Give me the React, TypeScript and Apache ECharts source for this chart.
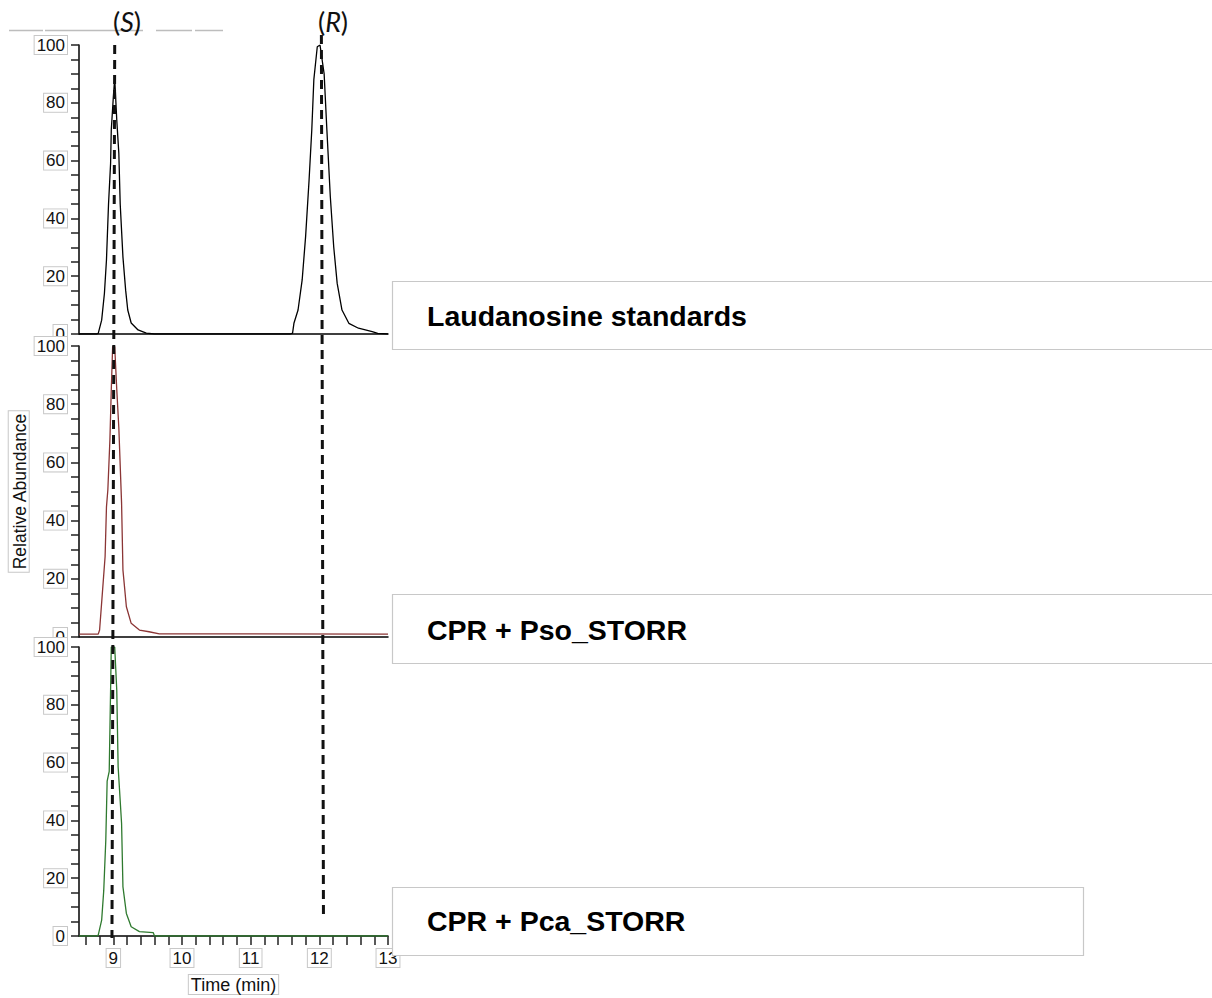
import React, { useEffect, useRef } from "react";
import * as echarts from "echarts";

// ---- Data ----
const stdTime = [8.5, 8.76, 8.78, 8.83, 8.87, 8.9, 8.93, 8.96, 8.97, 9.0, 9.02, 9.05, 9.08, 9.1, 9.14, 9.18, 9.21, 9.26, 9.36, 9.48, 9.6, 11.58, 11.61, 11.63, 11.69, 11.75, 11.8, 11.85, 11.89, 11.92, 11.97, 12.01, 12.07, 12.11, 12.16, 12.21, 12.26, 12.33, 12.43, 12.57, 12.77, 12.85, 13.0];
const stdAbundance = [0, 0, 0.2, 4.8, 14, 25.6, 45, 59, 70.6, 82, 88.6, 74, 62.6, 45, 26.6, 15, 8.3, 3.8, 1.4, 0.3, 0, 0, 0.3, 3.7, 8.3, 18.7, 33.7, 53, 70.6, 88, 99.4, 100, 90, 70.6, 47.5, 30, 17.5, 8.3, 3.7, 2, 0.8, 0.2, 0];

const psoTime = [8.5, 8.78, 8.8, 8.84, 8.88, 8.9, 8.92, 8.95, 8.97, 8.99, 9.02, 9.05, 9.08, 9.12, 9.14, 9.19, 9.26, 9.38, 9.52, 9.67, 13.0];
const psoAbundance = [1.0, 1.0, 2.4, 15, 27.6, 44.7, 50.5, 67.7, 84.9, 99.8, 99.8, 85, 72, 46, 23, 10.4, 4.7, 2.4, 1.8, 1.1, 1.0];

const pcaTime = [8.5, 8.76, 8.78, 8.83, 8.86, 8.89, 8.91, 8.94, 8.96, 8.97, 9.02, 9.05, 9.07, 9.12, 9.14, 9.19, 9.26, 9.38, 9.58, 9.6, 13.0];
const pcaAbundance = [0, 0, 0.3, 5.5, 15.6, 33, 53.6, 57, 85, 100, 100, 85, 58.5, 39, 17, 7.8, 3.2, 1.5, 1.2, 0, 0];

const xLabelValues = [9, 10, 11, 12, 13];
const xTickValues = [8.6, 8.8, 9.0, 9.2, 9.4, 9.6, 9.8, 10.0, 10.2, 10.4, 10.6, 10.8, 11.0, 11.2, 11.4, 11.6, 11.8, 12.0, 12.2, 12.4, 12.6, 12.8, 13.0];
const yLabelValues = [0, 20, 40, 60, 80, 100];
const yTickValues = [0, 5, 10, 15, 20, 25, 30, 35, 40, 45, 50, 55, 60, 65, 70, 75, 80, 85, 90, 95, 100];

const sampleNames = ["Laudanosine standards", "CPR + Pso_STORR", "CPR + Pca_STORR"];
const sampleColors = ["#000000", "#8b3535", "#2f7a2f"];
const enantiomerNames = ["S", "R"];
// dashed retention-time markers: [time, abundance] at top (panel 1) and bottom (panel 3)
const markerTop = [[9.02, 100], [12.03, 103.5]];
const markerBottom = [[8.98, -0.7], [12.06, 6.2]];

const X_MIN = 8.5;
const X_MAX = 13;

export default function App() {
  const ref = useRef<HTMLDivElement>(null);

  useEffect(() => {
    if (!ref.current) return;
    const chart = echarts.init(ref.current, null, { renderer: "svg" });

    const labelBox = {
      fontFamily: "Arial, 'Liberation Sans', sans-serif",
      fontSize: 17,
      color: "#111",
      borderColor: "#c8c8c8",
      borderWidth: 1,
      backgroundColor: "#fff",
      padding: [1, 2, 0, 2],
    };

    const grids = [
      { left: 79, top: 45, width: 309, height: 289 },
      { left: 79, top: 346, width: 309, height: 291 },
      { left: 79, top: 647, width: 309, height: 289 },
    ].map((g) => ({ ...g, containLabel: false, outerBoundsMode: "none" }));

    const xAxes = [0, 1, 2].map((i) => ({
      type: "value",
      gridIndex: i,
      min: X_MIN,
      max: X_MAX,
      splitLine: { show: false },
      axisLine: { show: true, onZero: false, lineStyle: { color: "#000", width: 1.5 } },
      axisTick: i === 2
        ? { show: true, customValues: xTickValues, length: 9, inside: false, lineStyle: { color: "#222", width: 1.5 } }
        : { show: false },
      axisLabel: i === 2
        ? { show: true, customValues: xLabelValues, margin: 13, ...labelBox }
        : { show: false },
      name: i === 2 ? "Time (min)" : "",
      nameLocation: "middle",
      nameGap: 39,
      nameTextStyle: { ...labelBox, fontSize: 18, padding: [1, 2, 0, 2] },
    }));

    const yAxes = [0, 1, 2].map((i) => ({
      type: "value",
      gridIndex: i,
      min: 0,
      max: 100,
      splitLine: { show: false },
      axisLine: { show: true, lineStyle: { color: "#000", width: 1.5 } },
      axisTick: { show: true, customValues: yTickValues, length: 8, lineStyle: { color: "#222", width: 1.5 } },
      axisLabel: { show: true, customValues: yLabelValues, margin: 12, ...labelBox },
      name: i === 1 ? "Relative Abundance" : "",
      nameLocation: "middle",
      nameRotate: 90,
      nameGap: 47,
      nameTextStyle: { ...labelBox, fontSize: 17.5, padding: [2, 2, 0, 2] },
    }));

    const traces = [
      [stdTime, stdAbundance],
      [psoTime, psoAbundance],
      [pcaTime, pcaAbundance],
    ];

    const series = traces.map(([t, v], i) => ({
      type: "line",
      name: sampleNames[i],
      xAxisIndex: i,
      yAxisIndex: i,
      data: t.map((x, k) => [x, v[k]]),
      showSymbol: false,
      symbol: "none",
      lineStyle: { color: sampleColors[i], width: 1.3 },
      z: 3,
    }));

    chart.setOption({
      animation: false,
      backgroundColor: "#fff",
      grid: grids,
      xAxis: xAxes,
      yAxis: yAxes,
      series,
    });

    const graphic: any[] = [];

    // faint grey rules at the top
    const topRules = [[9, 43], [45, 143], [156, 192], [195, 223]];
    topRules.forEach(([a, b]) => {
      graphic.push({
        type: "line",
        shape: { x1: a, y1: 30.5, x2: b, y2: 30.5 },
        style: { stroke: "#bdbdbd", lineWidth: 1.5 },
        z: 10,
      });
    });

    // dashed retention time markers
    markerTop.forEach((top, k) => {
      const p1 = chart.convertToPixel({ gridIndex: 0 }, top) as number[];
      const p2 = chart.convertToPixel({ gridIndex: 2 }, markerBottom[k]) as number[];
      graphic.push({
        type: "line",
        shape: { x1: p1[0], y1: p1[1], x2: p2[0], y2: p2[1] },
        style: { stroke: "#111", lineWidth: 3, lineDash: [9, 6] },
        z: 50,
      });
    });

    // (S) / (R) labels
    const enantiomerLabelX = [127, 333];
    enantiomerNames.forEach((n, k) => {
      graphic.push({
        type: "text",
        x: enantiomerLabelX[k],
        y: 21,
        style: {
          text: "{p|(}{i|" + n + "}{p|)}",
          align: "center",
          verticalAlign: "middle",
          rich: {
            p: { fontFamily: "Lato, 'Open Sans', sans-serif", fontSize: 27, fill: "#111" },
            i: { fontFamily: "Lato, 'Open Sans', sans-serif", fontSize: 27, fontStyle: "italic", fill: "#111" },
          },
        },
        z: 60,
      });
    });

    // sample label boxes
    const boxes = [
      { y: 281, h: 68, w: 830, ty: 316 },
      { y: 594, h: 69, w: 830, ty: 630 },
      { y: 887, h: 68, w: 691, ty: 921 },
    ];
    boxes.forEach((b, k) => {
      graphic.push({
        type: "rect",
        shape: { x: 392.5, y: b.y + 0.5, width: b.w, height: b.h },
        style: { fill: "#fff", stroke: "#c8c8c8", lineWidth: 1.2 },
        z: 100,
      });
      graphic.push({
        type: "text",
        x: 427,
        y: b.ty,
        style: {
          text: sampleNames[k],
          fontFamily: "Arial, 'Liberation Sans', sans-serif",
          fontWeight: "bold",
          fontSize: 28.5,
          fill: "#000",
          align: "left",
          verticalAlign: "middle",
        },
        z: 101,
      });
    });

    chart.setOption({ graphic });

    return () => chart.dispose();
  }, []);

  return (
    <div
      ref={ref}
      style={{ position: "absolute", left: 0, top: 0, width: 1212, height: 998, background: "#fff" }}
    />
  );
}
